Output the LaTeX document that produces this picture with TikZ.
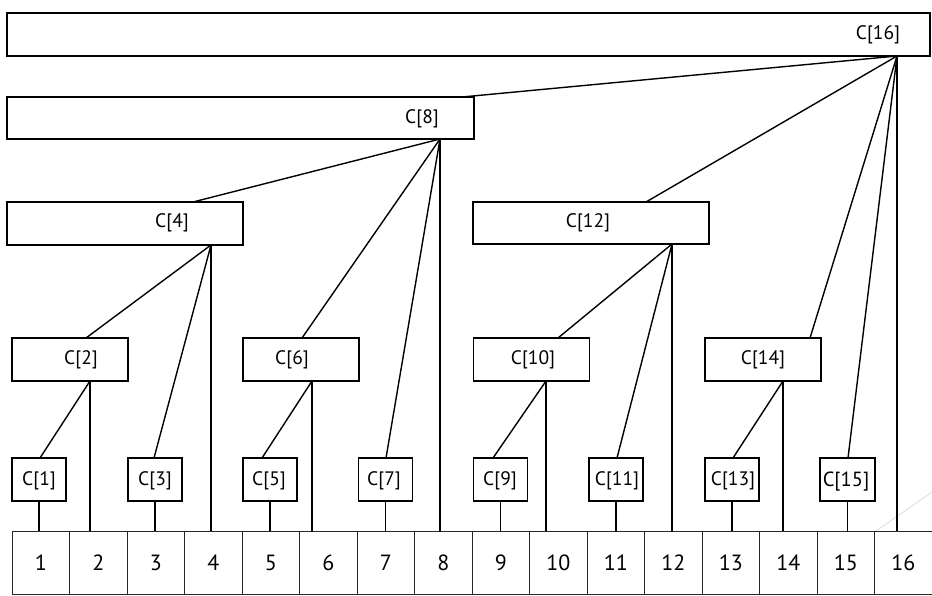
\documentclass[tikz,border=0pt]{standalone}
\usepackage{fontspec}
\setmainfont{PT Sans}
\tikzset{
  x=1pt, y=-1pt,
  box/.style={draw=black, line width=1.5pt, fill=white, inner sep=0pt, outer sep=0pt, minimum height=43pt},
  bigbox/.style={box, minimum height=43pt},
  midbox/.style={box, minimum width=116pt},
  smallbox/.style={box, minimum width=54pt},
  cell/.style={draw=black!85, line width=0.9pt, inner sep=0pt, outer sep=0pt, minimum width=57.5pt, minimum height=63pt, font=\fontsize{22}{25}\selectfont},
  lbl/.style={inner sep=0pt, font=\fontsize{19.5}{22}\selectfont},
  conn/.style={line width=1.4pt, black},
}
\begin{document}
\begin{tikzpicture}
\useasboundingbox (0,0) rectangle (932,595);
\fill[white] (0,0) rectangle (932,595);
% faint decoration
\draw[black!15, line width=0.7pt] (876,531) -- (932,492);

% big boxes
\node[bigbox, minimum width=923pt] (c16) at (468.5,34.5) {};
\node[bigbox, minimum width=467pt, minimum height=42pt] (c8) at (240.5,118) {};
\node[bigbox, minimum width=236pt] (c4) at (125,223.5) {};
\node[bigbox, minimum width=236pt, minimum height=42pt] (c12) at (591,223) {};
% mid boxes
\node[midbox] (c2) at (70,359.5) {};
\node[midbox] (c6) at (301,359.5) {};
\node[midbox] (c10) at (531.5,359.5) {};
\node[midbox] (c14) at (763,359.5) {};
% small boxes
\node[smallbox] (c1) at (39,479.5) {};
\node[smallbox] (c3) at (155,479.5) {};
\node[smallbox] (c5) at (270,479.5) {};
\node[smallbox] (c7) at (385.5,479.5) {};
\node[smallbox] (c9) at (500.5,479.5) {};
\node[smallbox] (c11) at (616,479.5) {};
\node[smallbox] (c13) at (732,479.5) {};
\node[smallbox, minimum width=55pt] (c15) at (847.5,479.5) {};

% labels
\node[lbl] (t16) at (878,35) {C[16]};
\node[lbl] (t8) at (422,119) {C[8]};
\node[lbl] (t4) at (172,223) {C[4]};
\node[lbl] (t12) at (588,223) {C[12]};
\node[lbl] (t2) at (81,360) {C[2]};
\node[lbl] (t6) at (292,360) {C[6]};
\node[lbl] (t10) at (533,360) {C[10]};
\node[lbl] (t14) at (763,360) {C[14]};
\node[lbl] (t1) at (39,481) {C[1]};
\node[lbl] (t3) at (155,481) {C[3]};
\node[lbl] (t5) at (269,481) {C[5]};
\node[lbl] (t7) at (384,481) {C[7]};
\node[lbl] (t9) at (500,481) {C[9]};
\node[lbl] (t11) at (617,481) {C[11]};
\node[lbl] (t13) at (733,481) {C[13]};
\node[lbl, font=\fontsize{20.5}{23}\selectfont] (t15) at (846,482) {C[15]};

% array cells
\foreach \i in {1,...,16} {
  \node[cell] (a\i) at ({12+57.5*(\i-0.5)},562.5) {\i};
}

% connector endpoints
\coordinate (o16) at (897,56);
\coordinate (o8) at (440,139);
\coordinate (o4) at (211,245);
\coordinate (o12) at (672,244);
\coordinate (o2) at (90,381);
\coordinate (o6) at (312,381);
\coordinate (o10) at (546,381);
\coordinate (o14) at (783,381);

\coordinate (i8) at (462,97);
\coordinate (i4) at (193,202);
\coordinate (i12) at (646,202);
\coordinate (i2) at (86,338);
\coordinate (i6) at (302,338);
\coordinate (i10) at (558,338);
\coordinate (i14) at (810,338);
\coordinate (i1) at (40,458);
\coordinate (i3) at (154,458);
\coordinate (i5) at (262,458);
\coordinate (i7) at (386,458);
\coordinate (i9) at (493,458);
\coordinate (i11) at (617,458);
\coordinate (i13) at (733,458);
\coordinate (i15) at (848,458);

% tree connectors
\draw[conn] (o16) -- (i8);
\draw[conn] (o16) -- (i12);
\draw[conn] (o16) -- (i14);
\draw[conn] (o16) -- (i15);
\draw[conn] (o16) -- (o16 |- a16.north);
\draw[conn] (o8) -- (i4);
\draw[conn] (o8) -- (i6);
\draw[conn] (o8) -- (i7);
\draw[conn] (o8) -- (o8 |- a8.north);
\draw[conn] (o4) -- (i2);
\draw[conn] (o4) -- (i3);
\draw[conn] (o4) -- (o4 |- a4.north);
\draw[conn] (o12) -- (i10);
\draw[conn] (o12) -- (i11);
\draw[conn] (o12) -- (o12 |- a12.north);
\draw[conn] (o2) -- (i1);
\draw[conn] (o2) -- (o2 |- a2.north);
\draw[conn] (o6) -- (i5);
\draw[conn] (o6) -- (o6 |- a6.north);
\draw[conn] (o10) -- (i9);
\draw[conn] (o10) -- (o10 |- a10.north);
\draw[conn] (o14) -- (i13);
\draw[conn] (o14) -- (o14 |- a14.north);

% stubs from small boxes to cells
\draw[conn] (c1.south) -- (a1.north -| c1.south);
\draw[conn] (c3.south) -- (a3.north -| c3.south);
\draw[conn] (c5.south) -- (a5.north -| c5.south);
\draw[conn] (c7.south) -- (a7.north -| c7.south);
\draw[conn] (c9.south) -- (a9.north -| c9.south);
\draw[conn] (c11.south) -- (a11.north -| c11.south);
\draw[conn] (c13.south) -- (a13.north -| c13.south);
\draw[conn] (c15.south) -- (a15.north -| c15.south);
\end{tikzpicture}
\end{document}
